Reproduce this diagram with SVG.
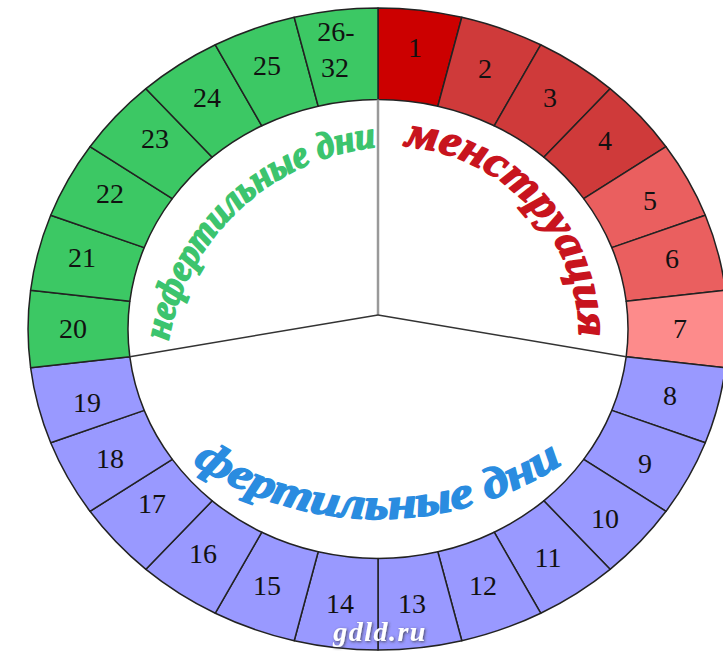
<svg xmlns="http://www.w3.org/2000/svg" width="723" height="652" viewBox="0 0 723 652">
<style>
.seg{stroke:#222;stroke-width:1.5;stroke-linejoin:round}
.red1{fill:#cc0000}.red2{fill:#cf3a3a}.red3{fill:#ea5f5f}.red4{fill:#fd8b8b}
.blue{fill:#9999ff}.green{fill:#3cc864}
.num{font-family:"Liberation Serif","Times New Roman",serif;font-size:28px;fill:#111;text-anchor:middle}
.arc{font-family:"Liberation Serif","Times New Roman",serif;font-weight:bold;font-style:italic;text-anchor:middle;stroke-width:1.6;stroke-linejoin:round}
</style>
<defs>
<path id="pRed" d="M373.5,146.7 A189,189 0 0 1 576.1,367.8"/>
<path id="pGreen" d="M165.6,397.4 A235,235 0 0 1 432.7,148.3"/>
<path id="pBlue" d="M162.7,440.6 A335,335 0 0 0 593.3,440.6"/>
<filter id="shadow" x="-20%" y="-40%" width="140%" height="180%">
<feGaussianBlur in="SourceAlpha" stdDeviation="1.5"/>
<feOffset dx="1" dy="1" result="b"/>
<feFlood flood-color="#333" flood-opacity="0.8"/>
<feComposite in2="b" operator="in"/>
<feMerge><feMergeNode/><feMergeNode in="SourceGraphic"/></feMerge>
</filter>
</defs>
<rect width="723" height="652" fill="#fff"/>

<g id="seg1"><path class="seg red1" d="M378,8 A350,321 0 0 1 461.8,17.3 L437.8,106.2 A250,229.5 0 0 0 378,99.5 Z"/><text class="num" x="415" y="57">1</text></g>
<g id="seg2"><path class="seg red2" d="M461.8,17.3 A350,321 0 0 1 540.7,44.8 L494.2,125.8 A250,229.5 0 0 0 437.8,106.2 Z"/><text class="num" x="485" y="78">2</text></g>
<g id="seg3"><path class="seg red2" d="M540.7,44.8 A350,321 0 0 1 610.1,88.7 L543.8,157.2 A250,229.5 0 0 0 494.2,125.8 Z"/><text class="num" x="550" y="107">3</text></g>
<g id="seg4"><path class="seg red2" d="M610.1,88.7 A350,321 0 0 1 666,146.7 L583.7,198.6 A250,229.5 0 0 0 543.8,157.2 Z"/><text class="num" x="605" y="150">4</text></g>
<g id="seg5"><path class="seg red3" d="M666,146.7 A350,321 0 0 1 705.3,215.2 L611.8,247.6 A250,229.5 0 0 0 583.7,198.6 Z"/><text class="num" x="650" y="210">5</text></g>
<g id="seg6"><path class="seg red3" d="M705.3,215.2 A350,321 0 0 1 725.4,290.3 L626.2,301.3 A250,229.5 0 0 0 611.8,247.6 Z"/><text class="num" x="672" y="268">6</text></g>
<g id="seg7"><path class="seg red4" d="M725.4,290.3 A350,321 0 0 1 725.4,367.7 L626.2,356.7 A250,229.5 0 0 0 626.2,301.3 Z"/><text class="num" x="680" y="338">7</text></g>
<g id="seg8"><path class="seg blue" d="M725.4,367.7 A350,321 0 0 1 705.3,442.8 L611.8,410.4 A250,229.5 0 0 0 626.2,356.7 Z"/><text class="num" x="670" y="405">8</text></g>
<g id="seg9"><path class="seg blue" d="M705.3,442.8 A350,321 0 0 1 666,511.3 L583.7,459.4 A250,229.5 0 0 0 611.8,410.4 Z"/><text class="num" x="645" y="473">9</text></g>
<g id="seg10"><path class="seg blue" d="M666,511.3 A350,321 0 0 1 610.1,569.3 L543.8,500.8 A250,229.5 0 0 0 583.7,459.4 Z"/><text class="num" x="605" y="528">10</text></g>
<g id="seg11"><path class="seg blue" d="M610.1,569.3 A350,321 0 0 1 540.7,613.2 L494.2,532.2 A250,229.5 0 0 0 543.8,500.8 Z"/><text class="num" x="548" y="567">11</text></g>
<g id="seg12"><path class="seg blue" d="M540.7,613.2 A350,321 0 0 1 461.8,640.7 L437.8,551.8 A250,229.5 0 0 0 494.2,532.2 Z"/><text class="num" x="483" y="595">12</text></g>
<g id="seg13"><path class="seg blue" d="M461.8,640.7 A350,321 0 0 1 378,650 L378,558.5 A250,229.5 0 0 0 437.8,551.8 Z"/><text class="num" x="412" y="613">13</text></g>
<g id="seg14"><path class="seg blue" d="M378,650 A350,321 0 0 1 294.2,640.7 L318.2,551.8 A250,229.5 0 0 0 378,558.5 Z"/><text class="num" x="340" y="613">14</text></g>
<g id="seg15"><path class="seg blue" d="M294.2,640.7 A350,321 0 0 1 215.3,613.2 L261.8,532.2 A250,229.5 0 0 0 318.2,551.8 Z"/><text class="num" x="267" y="595">15</text></g>
<g id="seg16"><path class="seg blue" d="M215.3,613.2 A350,321 0 0 1 145.9,569.3 L212.2,500.8 A250,229.5 0 0 0 261.8,532.2 Z"/><text class="num" x="203" y="563">16</text></g>
<g id="seg17"><path class="seg blue" d="M145.9,569.3 A350,321 0 0 1 90,511.3 L172.3,459.4 A250,229.5 0 0 0 212.2,500.8 Z"/><text class="num" x="152" y="513">17</text></g>
<g id="seg18"><path class="seg blue" d="M90,511.3 A350,321 0 0 1 50.7,442.8 L144.2,410.4 A250,229.5 0 0 0 172.3,459.4 Z"/><text class="num" x="110" y="468">18</text></g>
<g id="seg19"><path class="seg blue" d="M50.7,442.8 A350,321 0 0 1 30.6,367.7 L129.8,356.7 A250,229.5 0 0 0 144.2,410.4 Z"/><text class="num" x="87" y="412">19</text></g>
<g id="seg20"><path class="seg green" d="M30.6,367.7 A350,321 0 0 1 30.6,290.3 L129.8,301.3 A250,229.5 0 0 0 129.8,356.7 Z"/><text class="num" x="73" y="338">20</text></g>
<g id="seg21"><path class="seg green" d="M30.6,290.3 A350,321 0 0 1 50.7,215.2 L144.2,247.6 A250,229.5 0 0 0 129.8,301.3 Z"/><text class="num" x="82" y="267">21</text></g>
<g id="seg22"><path class="seg green" d="M50.7,215.2 A350,321 0 0 1 90,146.7 L172.3,198.6 A250,229.5 0 0 0 144.2,247.6 Z"/><text class="num" x="110" y="203">22</text></g>
<g id="seg23"><path class="seg green" d="M90,146.7 A350,321 0 0 1 145.9,88.7 L212.2,157.2 A250,229.5 0 0 0 172.3,198.6 Z"/><text class="num" x="155" y="148">23</text></g>
<g id="seg24"><path class="seg green" d="M145.9,88.7 A350,321 0 0 1 215.3,44.8 L261.8,125.8 A250,229.5 0 0 0 212.2,157.2 Z"/><text class="num" x="207" y="107">24</text></g>
<g id="seg25"><path class="seg green" d="M215.3,44.8 A350,321 0 0 1 294.2,17.3 L318.2,106.2 A250,229.5 0 0 0 261.8,125.8 Z"/><text class="num" x="267" y="75">25</text></g>
<g id="seg26"><path class="seg green" d="M294.2,17.3 A350,321 0 0 1 378,8 L378,99.5 A250,229.5 0 0 0 318.2,106.2 Z"/><text class="num" x="336" y="41">26-</text><text class="num" x="335" y="77">32</text></g>

<g id="connectors" fill="none">
<line x1="378" y1="315" x2="378" y2="99.5" stroke="#999" stroke-width="2.5"/>
<line x1="378" y1="315" x2="129.8" y2="356.7" stroke="#333" stroke-width="1.5"/>
<line x1="378" y1="315" x2="626.2" y2="356.7" stroke="#333" stroke-width="1.5"/>
</g>

<g id="label-menstruation"><text class="arc" font-size="44" fill="#c8141e" stroke="#c8141e"><textPath href="#pRed" startOffset="50%" textLength="284" lengthAdjust="spacingAndGlyphs">менструация</textPath></text></g>
<g id="label-nonfertile"><text class="arc" font-size="38" fill="#3cc46e" stroke="#3cc46e"><textPath href="#pGreen" startOffset="50%" textLength="305" lengthAdjust="spacingAndGlyphs">нефертильные дни</textPath></text></g>
<g id="label-fertile"><text class="arc" font-size="44" fill="#2a8ce0" stroke="#2a8ce0"><textPath href="#pBlue" startOffset="50%" textLength="392" lengthAdjust="spacingAndGlyphs">фертильные дни</textPath></text></g>
<g id="watermark"><text x="380" y="641" font-family="'Liberation Serif','Times New Roman',serif" font-weight="bold" font-style="italic" font-size="28" fill="#fff" text-anchor="middle" letter-spacing="1.5" filter="url(#shadow)">gdld.ru</text></g>
</svg>
